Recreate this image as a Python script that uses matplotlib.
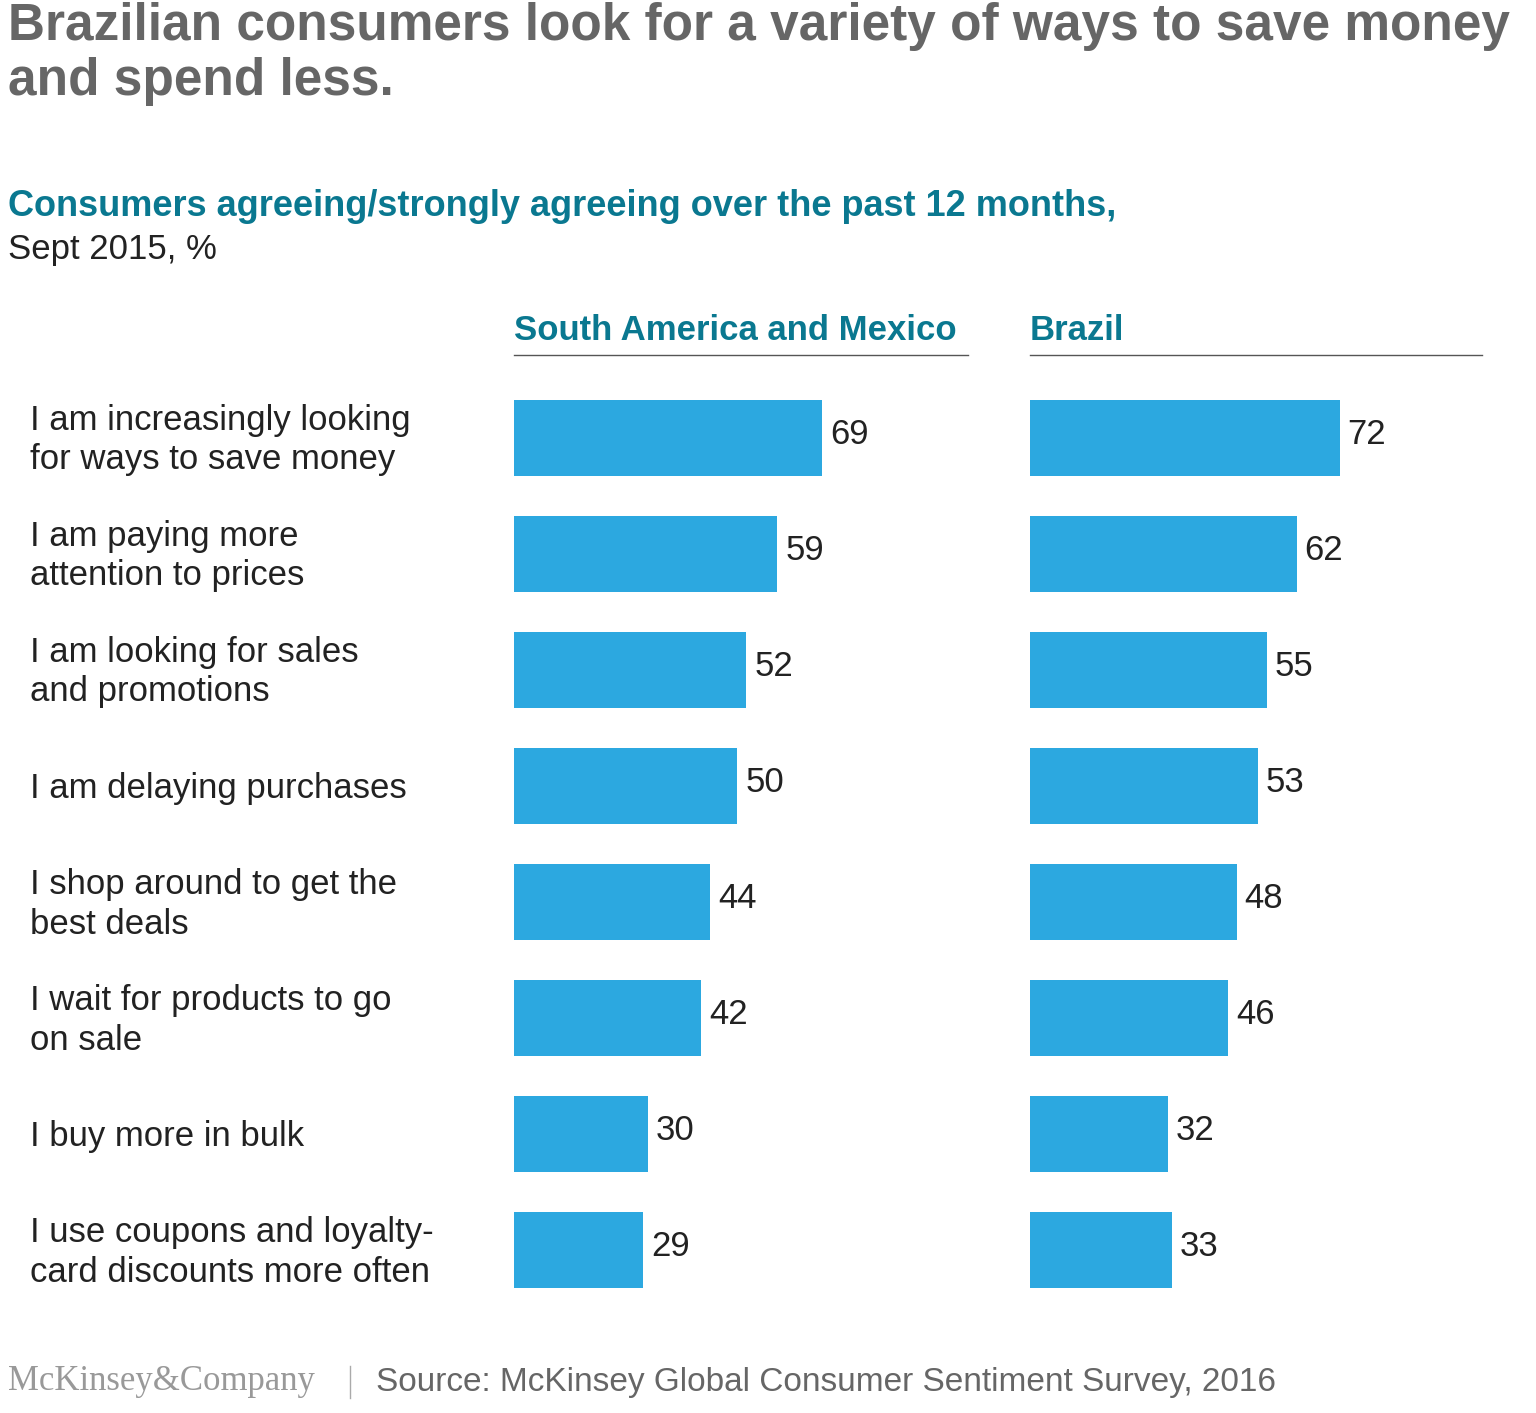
import matplotlib.pyplot as plt
from matplotlib.lines import Line2D

plt.rcParams['font.family'] = ['Liberation Sans', 'DejaVu Sans']

# data
labels = ['I am increasingly looking\nfor ways to save money',
          'I am paying more\nattention to prices',
          'I am looking for sales\nand promotions',
          'I am delaying purchases',
          'I shop around to get the\nbest deals',
          'I wait for products to go\non sale',
          'I buy more in bulk',
          'I use coupons and loyalty-\ncard discounts more often']
sam_vals = [69, 59, 52, 50, 44, 42, 30, 29]
brazil_vals = [72, 62, 55, 53, 48, 46, 32, 33]

W, H = 1536, 1413
bar_col = '#2ca8e0'
teal = '#0a7890'
gray = '#666666'

fig = plt.figure(figsize=(W / 100, H / 100), dpi=100)

def fx(px):
    return px / W

def fy(py):
    return 1 - py / H

top, bot = 380, 1308
panels = [(514, 454, 101.7, sam_vals, 'South America and Mexico'),
          (1030, 452, 105.0, brazil_vals, 'Brazil')]
for x0, w, xmax, vals, head in panels:
    ax = fig.add_axes([fx(x0), fy(bot), fx(w), (bot - top) / H])
    ax.barh(range(len(vals)), vals, height=0.65, color=bar_col)
    for i, v in enumerate(vals):
        ax.text(v + 1.8, i - 0.03, str(v), va='center', ha='left', fontsize=25, color='#222222')
    ax.set_xlim(0, xmax)
    ax.set_ylim(len(vals) - 0.5, -0.5)
    ax.axis('off')
    fig.text(fx(x0), fy(330), head, fontsize=25, fontweight='bold', color=teal, va='center')
    fig.add_artist(Line2D([fx(x0), fx(x0 + w)], [fy(355), fy(355)], color='#555555', lw=1))

for i, lab in enumerate(labels):
    yc = 440 + i * 116.1
    fig.text(fx(30), fy(yc), lab, fontsize=25, color='#222222', va='center', ha='left',
             linespacing=1.25)

fig.text(fx(8), fy(2), 'Brazilian consumers look for a variety of ways to save money\nand spend less.',
         fontsize=37, fontweight='bold', color=gray, va='top', ha='left', linespacing=1.15)
fig.text(fx(8), fy(207), 'Consumers agreeing/strongly agreeing over the past 12 months,',
         fontsize=26, fontweight='bold', color=teal, va='center')
fig.text(fx(8), fy(250), 'Sept 2015, %', fontsize=25, color='#222222', va='center')

fig.text(fx(8), fy(1382), 'McKinsey&Company', fontsize=25, family='Liberation Serif',
         color='#999999', va='center')
fig.add_artist(Line2D([fx(350), fx(350)], [fy(1366), fy(1398)], color='#aaaaaa', lw=1))
fig.text(fx(376), fy(1382), 'Source: McKinsey Global Consumer Sentiment Survey, 2016',
         fontsize=24, color=gray, va='center')

fig.savefig('out.png', dpi=100)
